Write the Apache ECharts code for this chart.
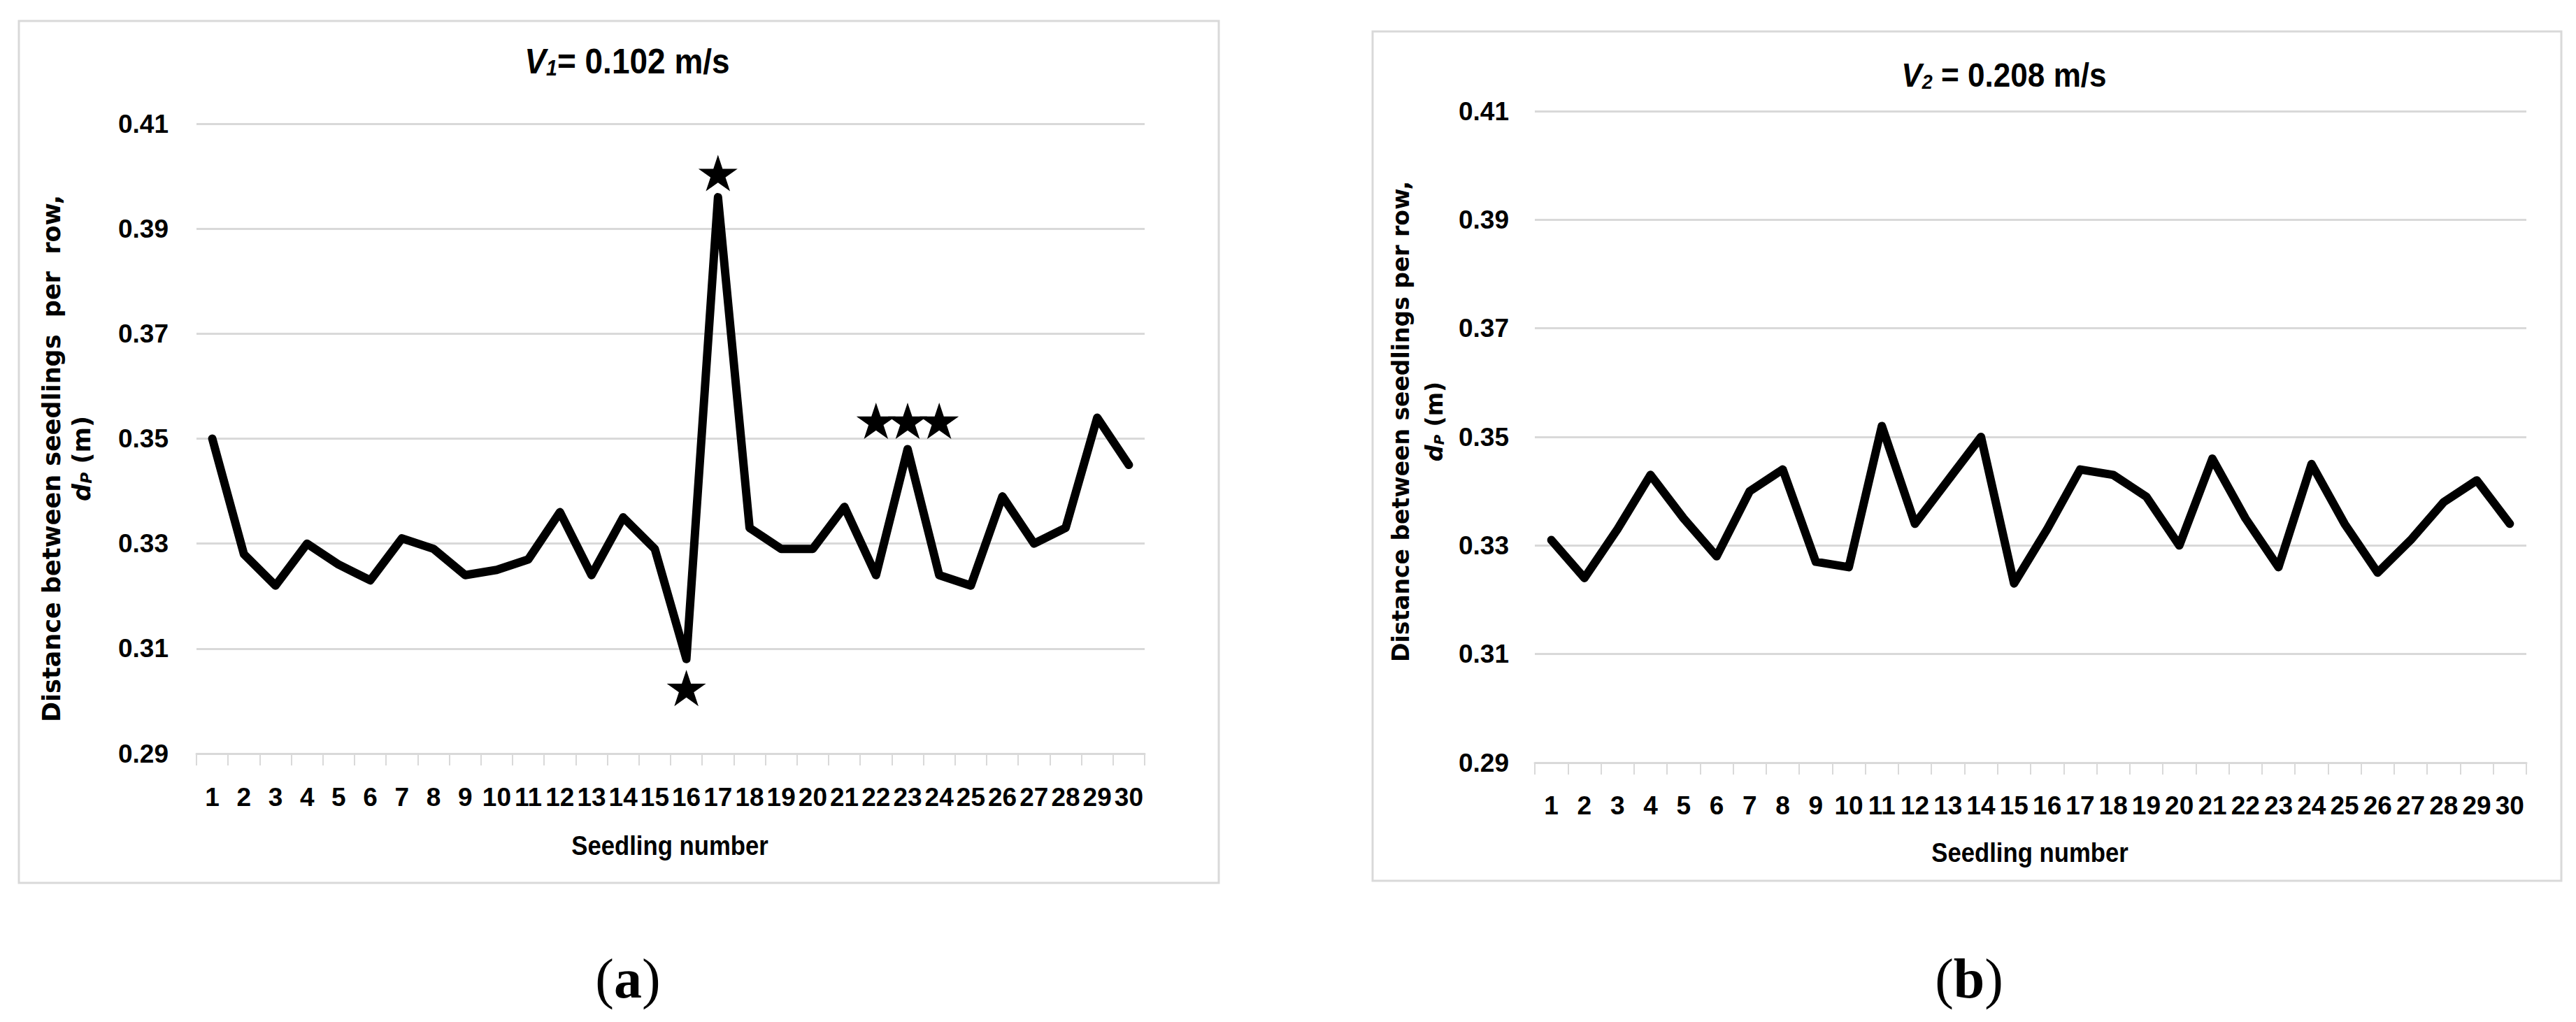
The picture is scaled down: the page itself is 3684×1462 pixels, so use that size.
<!DOCTYPE html>
<html>
<head>
<meta charset="utf-8">
<script src="https://cdn.jsdelivr.net/npm/echarts@6/dist/echarts.min.js"></script>
<style>
html,body{margin:0;padding:0;background:#fff;}
#c{width:3684px;height:1462px;}
</style>
</head>
<body>
<div id="c"></div>
<script>
// ---- data ----
const seedlings = ['1','2','3','4','5','6','7','8','9','10','11','12','13','14','15','16','17','18','19','20','21','22','23','24','25','26','27','28','29','30'];
const v1Values = [0.350,0.328,0.322,0.330,0.326,0.323,0.331,0.329,0.324,0.325,0.327,0.336,0.324,0.335,0.329,0.308,0.396,0.333,0.329,0.329,0.337,0.324,0.348,0.324,0.322,0.339,0.330,0.333,0.354,0.345];
const v2Values = [0.331,0.324,0.333,0.343,0.335,0.328,0.340,0.344,0.327,0.326,0.352,0.334,0.342,0.350,0.323,0.333,0.344,0.343,0.339,0.330,0.346,0.335,0.326,0.345,0.334,0.325,0.331,0.338,0.342,0.334];
const starSeedlings = ['16','17','22','23','24'];
const starValues = [0.3025,0.4006,0.3534,0.3534,0.3534];
const yMin = 0.29, yMax = 0.41, yStep = 0.02;
const xName = 'Seedling number';

const chart = echarts.init(document.getElementById('c'), null, {renderer:'svg'});
const sans = "'Liberation Sans',Arial,sans-serif";
const wide = "'DejaVu Sans',Verdana,sans-serif";
const serif = "'Liberation Serif','Times New Roman',serif";
const GRID = '#d9d9d9';
const STAR = 'path://M50,0 L61.2,34.5 L97.6,34.5 L68.2,55.9 L79.4,90.5 L50,69.1 L20.6,90.5 L31.8,55.9 L2.4,34.5 L38.8,34.5 Z';

function xAxis(gi, gap){
  return {
    type:'category', gridIndex:gi, data:seedlings, boundaryGap:true,
    axisLine:{show:true, lineStyle:{color:GRID, width:3}},
    axisTick:{show:true, length:17, lineStyle:{color:GRID, width:2}},
    axisLabel:{interval:0, color:'#000', fontFamily:sans, fontWeight:'bold', fontSize:37, margin:gap}
  };
}
function yAxis(gi, margin){
  return {
    type:'value', gridIndex:gi, min:yMin, max:yMax, interval:yStep,
    axisLine:{show:false}, axisTick:{show:false},
    splitLine:{show:true, lineStyle:{color:GRID, width:3}},
    axisLabel:{color:'#000', fontFamily:sans, fontWeight:'bold', fontSize:37, margin:margin,
      formatter:v=>v.toFixed(2)}
  };
}
function titleText(x, y, v, sub, rest, size, sx){
  return {type:'text', x:x, y:y, scaleX:sx, style:{
    text:'{i|'+v+'}{s|'+sub+'}{n|'+rest+'}',
    align:'center', verticalAlign:'middle',
    rich:{
      i:{fontFamily:sans, fontStyle:'italic', fontWeight:'bold', fontSize:size, fill:'#000'},
      s:{fontFamily:sans, fontStyle:'italic', fontWeight:'bold', fontSize:Math.round(size*0.62), fill:'#000', verticalAlign:'bottom', padding:[Math.round(size*0.3),0,0,0]},
      n:{fontFamily:sans, fontWeight:'bold', fontSize:size, fill:'#000'}
    }
  }};
}
function xTitle(x, y){
  return {type:'text', x:x, y:y, scaleX:0.89, style:{text:xName, align:'center', verticalAlign:'middle',
    fontFamily:sans, fontWeight:'bold', fontSize:39, fill:'#000'}};
}
function yTitle(x1, x2, y, line1, size){
  return [
    {type:'text', x:x1, y:y, rotation:Math.PI/2, style:{text:line1, align:'center', verticalAlign:'middle',
      fontFamily:wide, fontWeight:'bold', fontSize:size, fill:'#000'}},
    {type:'text', x:x2, y:y, rotation:Math.PI/2, style:{
      text:'{i|d}{s|P}{n| (m)}', align:'center', verticalAlign:'middle',
      rich:{
        i:{fontFamily:wide, fontStyle:'italic', fontWeight:'bold', fontSize:size, fill:'#000'},
        s:{fontFamily:wide, fontStyle:'italic', fontWeight:'bold', fontSize:Math.round(size*0.62), fill:'#000', verticalAlign:'bottom', padding:[Math.round(size*0.35),0,0,0]},
        n:{fontFamily:wide, fontWeight:'bold', fontSize:size, fill:'#000'}
      }}}
  ];
}
function panelLabel(x, y, letter){
  return {type:'text', x:x, y:y, style:{
    text:'{p|(}{b|'+letter+'}{p|)}', align:'center', verticalAlign:'middle',
    rich:{p:{fontFamily:serif, fontSize:80, fill:'#000'}, b:{fontFamily:serif, fontWeight:'bold', fontSize:80, fill:'#000'}}
  }};
}

chart.setOption({
  backgroundColor:'#ffffff',
  animation:false,
  grid:[
    {left:281, top:177, width:1356, height:901},
    {left:2195, top:159, width:1418, height:932}
  ],
  xAxis:[xAxis(0, 44), xAxis(1, 43)],
  yAxis:[yAxis(0, 40), yAxis(1, 37)],
  series:[
    {type:'line', xAxisIndex:0, yAxisIndex:0, data:v1Values, symbol:'none', smooth:false,
      lineStyle:{color:'#000', width:12, join:'round', cap:'round'}, z:3},
    {type:'scatter', xAxisIndex:0, yAxisIndex:0, data:starSeedlings.map((s,i)=>[s, starValues[i]]),
      symbol:STAR, symbolSize:[56,52], itemStyle:{color:'#000', opacity:1}, z:4},
    {type:'line', xAxisIndex:1, yAxisIndex:1, data:v2Values, symbol:'none', smooth:false,
      lineStyle:{color:'#000', width:12, join:'round', cap:'round'}, z:3}
  ],
  graphic:[
    {type:'rect', shape:{x:27, y:30, width:1716, height:1233}, style:{fill:'none', stroke:GRID, lineWidth:3}, z:-1},
    {type:'rect', shape:{x:1963, y:45, width:1700, height:1215}, style:{fill:'none', stroke:GRID, lineWidth:3}, z:-1},
    titleText(897, 88, 'V', '1', '= 0.102 m/s', 50, 0.92),
    titleText(2866, 107, 'V', '2', ' = 0.208 m/s', 49, 0.9),
    xTitle(958, 1210),
    xTitle(2903, 1220),
    ...yTitle(74, 117, 656, 'Distance between seedlings  per  row,', 35),
    ...yTitle(2003, 2051, 603, 'Distance between seedlings per row,', 33),
    panelLabel(898, 1400, 'a'),
    panelLabel(2816, 1400, 'b')
  ]
});
</script>
</body>
</html>
